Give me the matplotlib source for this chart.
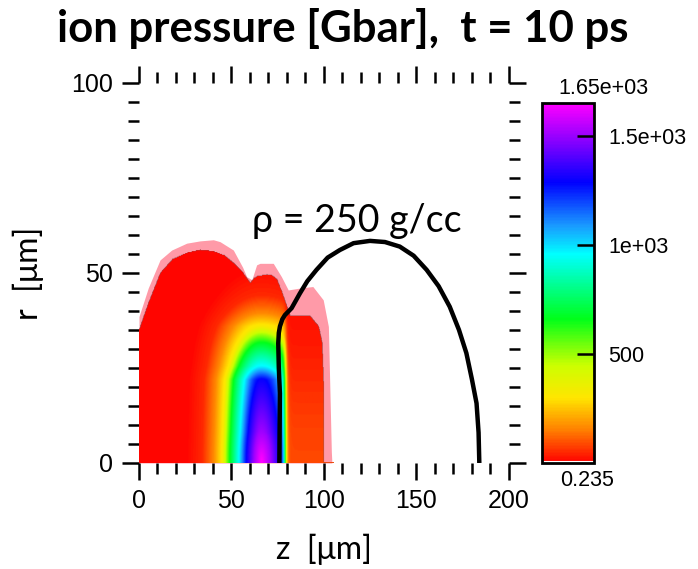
# import packages
import numpy as np
import matplotlib.pyplot as plt
from matplotlib.colors import LinearSegmentedColormap
from matplotlib.ticker import MultipleLocator

# data
# outer (pink) edge of the heated region, z [um] -> r [um]
z_pink = [0, 5, 11.4, 17.7, 25.8, 33, 40.2, 43.8, 51, 56, 58.2, 61, 63.6, 65.4, 72.6, 77, 80.7, 87, 94, 99.6, 102.4, 104, 104.3]
r_pink = [38.5, 46, 53.4, 56, 57.8, 58.4, 58.7, 58.2, 56, 51.5, 49, 48.2, 52.1, 52.5, 52.5, 49, 45.5, 46, 46.4, 42.9, 35.9, 3, 0]

# inner (coloured) edge
z_red = [0, 5, 11.4, 18, 25.8, 33, 40.2, 46, 51, 56, 60, 62, 63.6, 69, 72, 74.4, 77, 79.8, 81.6, 92.4, 96.9, 98.8, 99.6, 99.6]
r_red = [35, 42, 49.9, 53.5, 55.2, 56, 55.6, 54.5, 52.5, 50, 47.3, 48.5, 49, 49.5, 49.2, 48.2, 45, 41.1, 38.5, 38.5, 35.9, 31.5, 20, 0]

# rho = 250 g/cc contour
z_rho = [75.9, 76.2, 75.6, 75.3, 75.6, 76.2, 77.5, 78.9, 82.5, 87, 91, 96, 102, 108.6, 116, 124.9, 133, 141, 148.5, 155.5, 162, 168, 173, 177, 180, 182.5, 183.6, 184]
r_rho = [0, 18.3, 25, 31.5, 34.2, 35.9, 37.8, 38.9, 40.7, 44.6, 47.8, 50.8, 54, 56, 57.8, 58.4, 58.1, 56.9, 54.5, 50.8, 46.5, 41.1, 35, 28.9, 22, 15.7, 8, 0]

# pressure peak: position, profile (distance -> Gbar), and r -> distance map
z_peak = 66
d_prof = [0, 4, 8, 12, 17, 21, 26, 32, 40]
p_prof = [1650, 1500, 1290, 960, 660, 310, 150, 40, 0]
r_map = [0, 8, 21.8, 25.3, 31.5, 35.9, 39.4, 44, 60]
d_map = [0, 4, 8, 12, 17, 21, 26, 32, 50]

p_min = 0.235
p_max = 1650
cb_ticks = [500, 1000, 1500]
cb_ticklabels = ['500', '1e+03', '1.5e+03']

# colour map: red -> yellow -> green -> cyan -> blue -> magenta
cmap = LinearSegmentedColormap.from_list('rb', [
    (0.0, (1, 0, 0)), (0.09, (1, 0.5, 0)), (0.18, (1, 0.9, 0)), (0.27, (0.8, 1, 0)),
    (0.40, (0, 1, 0.1)), (0.58, (0, 1, 1)), (0.66, (0.1, 0.6, 1)), (0.78, (0, 0, 1)),
    (0.91, (0.6, 0, 1)), (1.0, (1, 0, 1))])
cmap.set_bad((0, 0, 0, 0))

# build field
zz = np.linspace(0, 105, 421)
rr = np.linspace(0, 60, 241)
Z, R = np.meshgrid(zz, rr)
dz = Z - z_peak
dz = np.where(dz > 0, dz * 0.8, dz)
d = np.sqrt(dz**2 + np.interp(R, r_map, d_map)**2)
peak = np.interp(d, d_prof, p_prof)
cut = 1 / (1 + np.exp((Z - 79) / 0.6))
lobe = 75 * np.exp(-(R / 28)**2) / (1 + np.exp(-(Z - 79.5) / 0.6))
P = peak * cut + 10 + lobe
P = np.ma.masked_where(R > np.interp(Z, z_red, r_red), P)

# draw plot
fig = plt.figure(figsize=(6.98, 5.69), dpi=100)
ax = fig.add_axes([0.1991, 0.1863, 0.530, 0.6684])

ax.fill_between(z_pink, 0, r_pink, color='#ff9aa8', lw=0, zorder=1)
im = ax.imshow(P, extent=[0, 105, 0, 60], origin='lower', aspect='auto', cmap=cmap,
               vmin=p_min, vmax=p_max, interpolation='bilinear', zorder=2)
ax.plot(z_rho, r_rho, color='black', lw=3.2, solid_capstyle='butt', zorder=3)

ax.set_xlim(0, 200)
ax.set_ylim(0, 100)
for s in ax.spines.values():
    s.set_visible(False)
ax.xaxis.set_major_locator(MultipleLocator(50))
ax.xaxis.set_minor_locator(MultipleLocator(10))
ax.yaxis.set_major_locator(MultipleLocator(50))
ax.yaxis.set_minor_locator(MultipleLocator(5))
ax.tick_params(which='both', direction='out', top=True, right=True, width=1.8,
               labelsize=18, labelfontfamily='Liberation Sans')
ax.tick_params(which='major', length=12, pad=7)
ax.tick_params(which='minor', length=8)

fs_lab = 23
ax.text(118, 63.5, 'ρ = 250 g/cc', ha='center', va='center', fontsize=27, family='Lato')
fig.text(0.4907, 0.950, 'ion pressure [Gbar],  t = 10 ps', ha='center', va='center',
         fontsize=31.5, fontweight='bold', family='Lato')
fig.text(0.464, 0.034, 'z  [μm]', ha='center', va='center', fontsize=fs_lab, family='Lato')
fig.text(0.040, 0.52, 'r  [μm]', ha='center', va='center', fontsize=fs_lab, family='Lato',
         rotation=90)

# colour bar
cax = fig.add_axes([0.7765, 0.1863, 0.0745, 0.6327])
cb = fig.colorbar(im, cax=cax, ticks=cb_ticks)
cb.set_ticklabels(cb_ticklabels)
cb.outline.set_linewidth(2)
cax.tick_params(direction='in', length=12, width=1.8, labelsize=15.5, pad=10)
for t in cax.get_yticklabels():
    t.set_family('Liberation Sans')
cax.axhline(6, color='white', lw=1.5)
cax.text(1.19, 1.01, '1.65e+03', transform=cax.transAxes, ha='center', va='bottom',
         fontsize=15.5, family='Liberation Sans')
cax.text(0.87, -0.02, '0.235', transform=cax.transAxes, ha='center', va='top',
         fontsize=15.5, family='Liberation Sans')

plt.savefig('out.png', dpi=100)
